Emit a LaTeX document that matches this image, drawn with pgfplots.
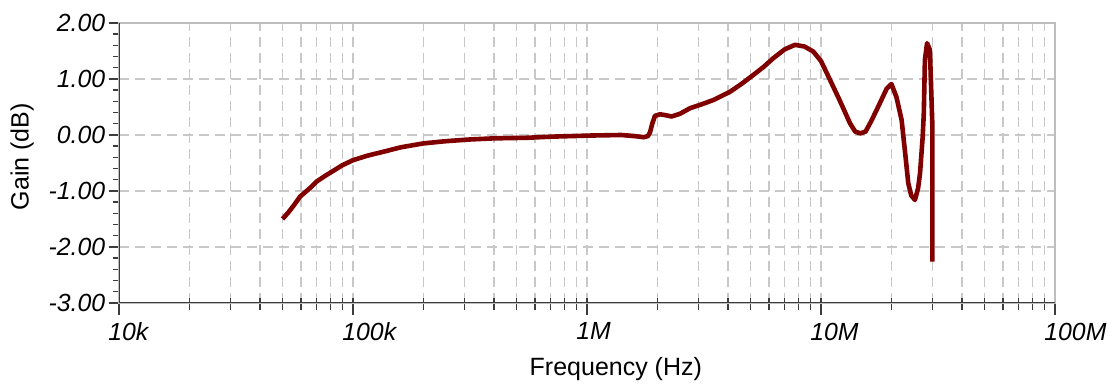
\documentclass[border=0pt]{standalone}
\usepackage{fontspec}
\setmainfont{Liberation Sans}
\usepackage{pgfplots}
\pgfplotsset{compat=1.18}
\definecolor{curve}{RGB}{128,0,0}
\definecolor{gridc}{RGB}{200,200,200}
\definecolor{axdark}{RGB}{60,60,60}
\definecolor{axlight}{RGB}{190,190,190}
\begin{document}
\begin{tikzpicture}
\useasboundingbox (-59.5pt,-40.5pt) rectangle (497.5pt,151.5pt);
\begin{axis}[
  scale only axis,
  width=468pt, height=140pt,
  xmode=log,
  xmin=1e4, xmax=1e8,
  ymin=-3, ymax=2,
  xtick={1e4,1e5,1e6,1e7,1e8},
  xticklabels={10k,100k,1M,10M,100M},
  ytick={-3,-2,-1,0,1,2},
  yticklabels={-3.00,-2.00,-1.00,0.00,1.00,2.00},
  minor y tick num=4,
  xmajorgrids, xminorgrids, ymajorgrids,
  major grid style={gridc, line width=0.7pt, dash pattern=on 5pt off 3pt},
  minor grid style={gridc, line width=0.7pt, dash pattern=on 5pt off 3pt},
  axis line style={axlight, line width=0.7pt},
  tick align=outside,
  xtick pos=bottom, ytick pos=left,
  xtick style={axdark, line width=0.7pt, yshift=2.5pt, /pgfplots/major tick length=8.5pt, /pgfplots/minor tick length=6pt},
  ytick style={axdark, line width=0.7pt, /pgfplots/major tick length=5pt, /pgfplots/minor tick length=3pt},
  xticklabel style={font=\fontsize{12.4}{14}\selectfont\itshape, anchor=north west, inner sep=0pt, xshift=-5.5pt, yshift=-5.5pt},
  yticklabel style={font=\fontsize{12.4}{14}\selectfont\itshape, anchor=east, inner sep=0pt, xshift=-2.5pt},
  label style={font=\fontsize{12.5}{14}\selectfont},
  xlabel={Frequency (Hz)},
  ylabel={Gain (dB)},
  xlabel style={at={(axis description cs:0.5308,0)}, anchor=north, inner sep=0pt, yshift=-27pt},
  ylabel style={at={(axis description cs:-0.1036,0.5225)}, anchor=center},
]
\addplot[curve, line width=2.3pt, line join=round] coordinates {
(50e3,-1.50) (53e3,-1.38) (56e3,-1.25) (59.4e3,-1.10) (65e3,-0.96) (70e3,-0.83)
(76e3,-0.73) (82.4e3,-0.64) (90e3,-0.54) (100e3,-0.45) (115e3,-0.37) (134.6e3,-0.30)
(160e3,-0.22) (200e3,-0.15) (250e3,-0.11) (316e3,-0.08) (400e3,-0.06) (552e3,-0.05)
(700e3,-0.03) (1.03e6,-0.01) (1.4e6,0.0) (1.60e6,-0.02) (1.75e6,-0.04) (1.82e6,-0.02)
(1.86e6,0.05) (1.90e6,0.20) (1.95e6,0.34) (2.05e6,0.37) (2.19e6,0.35) (2.30e6,0.33)
(2.5e6,0.38) (2.76e6,0.48) (3.1e6,0.55) (3.47e6,0.625) (4.08e6,0.77) (4.6e6,0.92)
(5.13e6,1.07) (5.7e6,1.22) (6.25e6,1.37) (7.0e6,1.53) (7.74e6,1.61) (8.5e6,1.58)
(9.27e6,1.49) (10e6,1.32) (10.6e6,1.10) (12.0e6,0.625) (13.3e6,0.21) (14.0e6,0.06)
(14.7e6,0.03) (15.5e6,0.06) (16.4e6,0.25) (17.3e6,0.45) (19.1e6,0.83) (20.0e6,0.91)
(21.0e6,0.68) (22.1e6,0.27) (22.9e6,-0.33) (23.6e6,-0.86) (24.3e6,-1.08) (25.2e6,-1.16)
(26.0e6,-0.95) (26.5e6,-0.68) (27.2e6,-0.03) (27.5e6,0.39) (27.8e6,1.34) (28.4e6,1.64)
(29.2e6,1.52) (29.9e6,0.2) (29.9e6,-2.26)
};
\draw[axdark, line width=0.8pt] (rel axis cs:0,1) -- (rel axis cs:0,0) -- (rel axis cs:1,0);
\end{axis}
\end{tikzpicture}
\end{document}
